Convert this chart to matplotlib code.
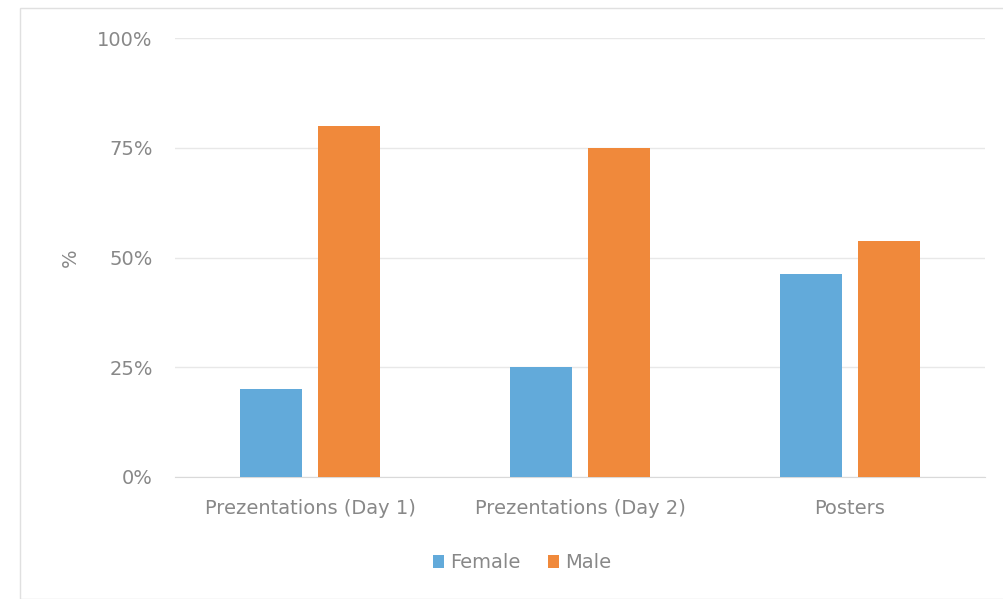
import matplotlib
matplotlib.use("Agg")
import matplotlib.pyplot as plt
import numpy as np
from matplotlib.patches import Rectangle

categories = ["Prezentations (Day 1)", "Prezentations (Day 2)", "Posters"]
female = [20, 25, 46.2]
male = [80, 75, 53.8]
yticks = [0, 25, 50, 75, 100]
ytick_labels = ["0%", "25%", "50%", "75%", "100%"]

plt.rcParams['font.family'] = ['DejaVu Sans']

fig = plt.figure(figsize=(10.04, 5.99), dpi=100)
ax = fig.add_axes([175/1004, 1-477/599, (985-175)/1004, (477-38)/599])

x = np.arange(len(categories))
w = 0.228
off = 0.145
ax.bar(x - off, female, w, color="#62AADA", label="Female", zorder=3)
ax.bar(x + off, male, w, color="#F0893B", label="Male", zorder=3)

fs = 14
tc = "#888888"
ax.set_xlim(-0.5, 2.5)
ax.set_ylim(0, 100)
ax.set_yticks(yticks)
ax.set_yticklabels(ytick_labels)
ax.set_xticks(x)
ax.set_xticklabels(categories)
ax.tick_params(axis='both', length=0, colors=tc, labelsize=fs)
ax.tick_params(axis='y', pad=16)
ax.tick_params(axis='x', pad=16)
ax.grid(axis='y', color="#e8e8e8", linewidth=1, zorder=0)
for s in ["top", "right", "left"]:
    ax.spines[s].set_visible(False)
ax.spines["bottom"].set_color("#d9d9d9")
ax.set_ylabel("%", color=tc, fontsize=fs)
ax.yaxis.set_label_coords(-95/810, 0.5)

leg = fig.legend(loc="center", bbox_to_anchor=(522/1004, 1-563/599), ncol=2, frameon=False,
                 fontsize=fs, handlelength=0.6, handleheight=0.6, handletextpad=0.3, columnspacing=1.4)
for t in leg.get_texts():
    t.set_color(tc)

fig.patches.append(Rectangle((20/1004, 0), 1 - 20/1004 + 0.01, 1 - 8/599, transform=fig.transFigure,
                             fill=False, edgecolor="#e0e0e0", linewidth=1))

fig.savefig("out.png", dpi=100)
